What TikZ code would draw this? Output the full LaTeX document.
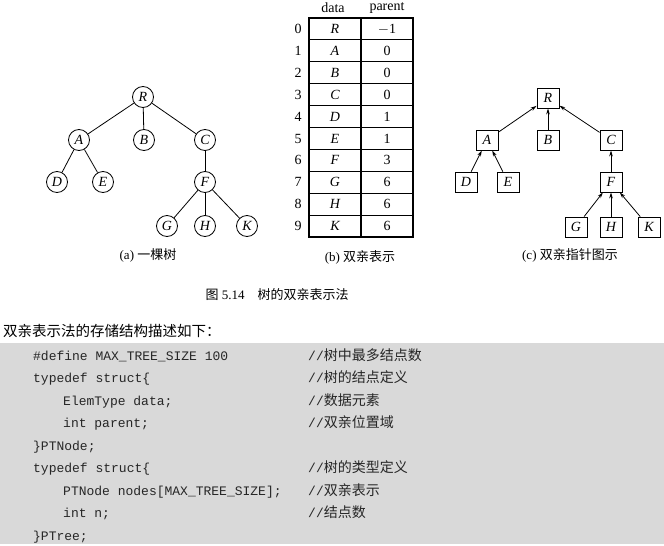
\documentclass[tikz,border=0pt]{standalone}
\usepackage{fontspec}
\setmainfont{Liberation Serif}
\setmonofont{Liberation Mono}
\newfontfamily\cjk{Noto Sans CJK SC}
\usetikzlibrary{arrows.meta}
\tikzset{
  cnode/.style={circle,draw,line width=0.8pt,minimum size=21pt,inner sep=0pt,font=\fontsize{14}{14}\selectfont\itshape},
  bnode/.style={rectangle,draw,line width=0.8pt,minimum width=22pt,minimum height=20pt,inner sep=0pt,font=\fontsize{14}{14}\selectfont\itshape},
  tedge/.style={line width=0.8pt},
  parr/.style={line width=0.8pt,-{Stealth[length=6pt,width=3.6pt]}},
  captxt/.style={font=\fontsize{13}{13}\selectfont},
  cell/.style={font=\fontsize{14}{14}\selectfont},
  code/.style={anchor=base west,inner sep=0pt,font=\fontsize{13}{13}\selectfont\ttfamily,text=black!85},
  cmt/.style={anchor=base west,inner sep=0pt,font=\fontsize{13}{13}\selectfont\ttfamily,text=black!85}
}
\newcommand{\cmtcjk}[1]{{\fontsize{14}{14}\selectfont\cjk #1}}
\begin{document}
\begin{tikzpicture}[x=1pt,y=-1pt]
\useasboundingbox (0,0) rectangle (664,546);
\fill[white] (0,0) rectangle (664,546);
% (a) tree
\node[cnode] (aR) at (143,97) {R};
\node[cnode] (aA) at (79,140) {A};
\node[cnode] (aB) at (144,140) {B};
\node[cnode] (aC) at (205,140) {C};
\node[cnode] (aD) at (57,182) {D};
\node[cnode] (aE) at (103,182) {E};
\node[cnode] (aF) at (205,182) {F};
\node[cnode] (aG) at (167,226) {G};
\node[cnode] (aH) at (205,226) {H};
\node[cnode] (aK) at (247,226) {K};
\foreach \p/\c in {aR/aA,aR/aB,aR/aC,aA/aD,aA/aE,aC/aF,aF/aG,aF/aH,aF/aK}
  \draw[tedge] (\p) -- (\c);
\node[captxt] (capa) at (148,255) {(a) {\cjk 一棵树}};
% (b) table
\node[cell] (hdata) at (333,8) {data};
\node[cell] (hpar) at (387,8) {parent};
\foreach \i/\d/\p in {0/R/$-$1,1/A/0,2/B/0,3/C/0,4/D/1,5/E/1,6/F/3,7/G/6,8/H/6,9/K/6}{
  \draw[line width=1.1pt] (309,{18+21.9*\i}) rectangle (413,{18+21.9*(\i+1)});
  \node[cell] (idx\i) at (298,{29+21.9*\i}) {\i};
  \node[cell,font=\fontsize{14}{14}\selectfont\itshape] (d\i) at (335,{29+21.9*\i}) {\d};
  \node[cell] (p\i) at (387,{29+21.9*\i}) {\p};
}
\draw[line width=1.1pt] (361,18) -- (361,237);
\node[captxt] (capb) at (360,257) {(b) {\cjk 双亲表示}};
% (c) parent pointer tree
\node[bnode] (cR) at (548,98) {R};
\node[bnode] (cA) at (487,140) {A};
\node[bnode] (cB) at (548,140) {B};
\node[bnode] (cC) at (611,140) {C};
\node[bnode] (cD) at (466,182) {D};
\node[bnode] (cE) at (508,182) {E};
\node[bnode] (cF) at (611,182) {F};
\node[bnode] (cG) at (576,227) {G};
\node[bnode] (cH) at (611,227) {H};
\node[bnode] (cK) at (649,227) {K};
\foreach \c/\p in {cA/cR,cB/cR,cC/cR,cD/cA,cE/cA,cF/cC,cG/cF,cH/cF,cK/cF}
  \draw[parr] (\c) -- (\p);
\node[captxt] (capc) at (570,255) {(c) {\cjk 双亲指针图示}};
% figure caption
\node[font=\fontsize{13}{13}\selectfont] (figcap) at (277,295) {{\cjk 图} 5.14\quad{\cjk 树的双亲表示法}};
\node[anchor=base west,inner sep=0pt,font=\fontsize{14.5}{14.5}\selectfont\cjk] (intro) at (3,336) {双亲表示法的存储结构描述如下：};
% code box
\fill[gray!30] (0,343) rectangle (664,544);
\node[code] (l1) at (33,360) {\#define MAX\_TREE\_SIZE 100};
\node[code] (l2) at (33,382.5) {typedef struct\{};
\node[code] (l3) at (63,405) {ElemType data;};
\node[code] (l4) at (63,427.5) {int parent;};
\node[code] (l5) at (33,450) {\}PTNode;};
\node[code] (l6) at (33,472.5) {typedef struct\{};
\node[code] (l7) at (63,495) {PTNode nodes[MAX\_TREE\_SIZE];};
\node[code] (l8) at (63,517.5) {int n;};
\node[code] (l9) at (33,540) {\}PTree;};
\node[cmt] (c1) at (308,360) {//\cmtcjk{树中最多结点数}};
\node[cmt] (c2) at (308,382.5) {//\cmtcjk{树的结点定义}};
\node[cmt] (c3) at (308,405) {//\cmtcjk{数据元素}};
\node[cmt] (c4) at (308,427.5) {//\cmtcjk{双亲位置域}};
\node[cmt] (c6) at (308,472.5) {//\cmtcjk{树的类型定义}};
\node[cmt] (c7) at (308,495) {//\cmtcjk{双亲表示}};
\node[cmt] (c8) at (308,517.5) {//\cmtcjk{结点数}};
\end{tikzpicture}
\end{document}
